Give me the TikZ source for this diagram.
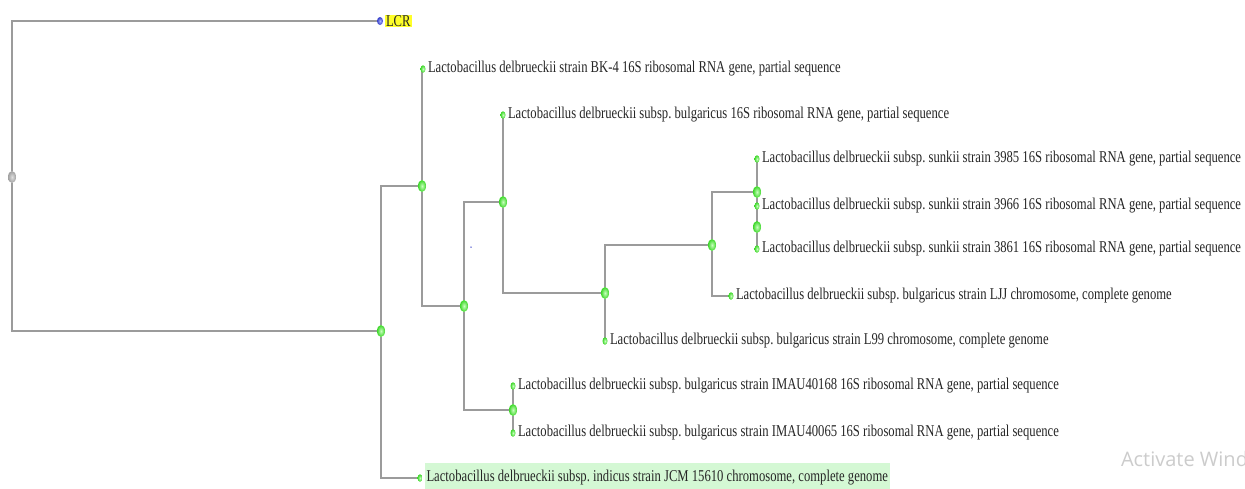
\documentclass[tikz,border=0pt]{standalone}
\usepackage{fontspec}
\setmainfont{Liberation Serif}[FakeStretch=0.767]
\newfontfamily\winfont{Open Sans}
\frenchspacing
\usepackage{tikz}
\usetikzlibrary{backgrounds}
\usetikzlibrary{shapes.geometric}
\definecolor{treeline}{RGB}{155,155,155}
\definecolor{greenlite}{RGB}{200,255,190}
\definecolor{greenrim}{RGB}{60,215,40}
\definecolor{bluelite}{RGB}{170,180,255}
\definecolor{bluerim}{RGB}{50,60,200}
\definecolor{hiyellow}{RGB}{255,255,40}
\definecolor{higreen}{RGB}{212,248,212}

\begin{document}
\begin{tikzpicture}[x=1pt,y=-1pt,
  every node/.style={ellipse,inner sep=0pt,outer sep=0pt},
  greenball/.style={shading=radial,inner color=greenlite,outer color=greenrim},
  leafdot/.style={greenball,minimum width=5pt,minimum height=7.5pt},
  forkdot/.style={greenball,minimum width=8pt,minimum height=12pt},
  lbl/.style={rectangle,inner sep=0.5pt,font=\fontsize{16.5}{18}\selectfont,text=black!85},
  every label/.style={lbl},label distance=2pt]
\useasboundingbox (0,0) rectangle (1245,488);

\node [shading=radial,inner color=gray!25,outer color=gray!75,minimum width=8pt,minimum height=12pt] (root) at (12,177){};
\node [shading=radial,inner color=bluelite,outer color=bluerim,minimum width=6pt,minimum height=8pt] (lcr) at (380,21)
  [label={[fill=hiyellow,inner xsep=1pt,inner ysep=0pt]right:LCR}]{};

\node[forkdot] (nA) at (381,331){};
\node[leafdot] (indicus) at (420,478)
  [label={[fill=higreen,inner xsep=2pt,inner ysep=8pt]right:{Lactobacillus delbrueckii subsp. indicus strain JCM 15610 chromosome, complete genome}}]{};
\node[forkdot] (nB) at (422,186){};
\node[leafdot] (bk4) at (423,69)[label={right:{Lactobacillus delbrueckii strain BK-4 16S ribosomal RNA gene, partial sequence}}]{};
\node[forkdot] (nC) at (464,306){};
\node[forkdot] (nD) at (503,202){};
\node[leafdot] (bulg) at (503,115)[label={right:{Lactobacillus delbrueckii subsp. bulgaricus 16S ribosomal RNA gene, partial sequence}}]{};
\node[forkdot] (nE) at (513,410){};
\node[leafdot] (imau168) at (513,386)[label={right:{Lactobacillus delbrueckii subsp. bulgaricus strain IMAU40168 16S ribosomal RNA gene, partial sequence}}]{};
\node[leafdot] (imau065) at (513,433)[label={right:{Lactobacillus delbrueckii subsp. bulgaricus strain IMAU40065 16S ribosomal RNA gene, partial sequence}}]{};
\node[forkdot] (nF) at (605,293){};
\node[leafdot] (l99) at (605,341)[label={right:{Lactobacillus delbrueckii subsp. bulgaricus strain L99 chromosome, complete genome}}]{};
\node[forkdot] (nG) at (712,245){};
\node[leafdot] (ljj) at (731,296)[label={right:{Lactobacillus delbrueckii subsp. bulgaricus strain LJJ chromosome, complete genome}}]{};
\node[forkdot] (nH) at (757,192){};
\node[leafdot] (s3985) at (757,159)[label={right:{Lactobacillus delbrueckii subsp. sunkii strain 3985 16S ribosomal RNA gene, partial sequence}}]{};
\node[forkdot] (nI) at (757,227){};
\node[leafdot] (s3966) at (757,206)[label={right:{Lactobacillus delbrueckii subsp. sunkii strain 3966 16S ribosomal RNA gene, partial sequence}}]{};
\node[leafdot] (s3861) at (757,249)[label={right:{Lactobacillus delbrueckii subsp. sunkii strain 3861 16S ribosomal RNA gene, partial sequence}}]{};

\node[circle,fill=bluerim,minimum size=1.5pt] (speck) at (471,247){};

\begin{scope}
\clip (0,0) rectangle (1245,488);
\node[rectangle,anchor=base west,inner sep=0pt,text=gray!40,font=\winfont\fontsize{20}{24}\selectfont] (watermark) at (1121,466) {Activate Windows};
\end{scope}

\begin{scope}[on background layer]
\fill[white](0,0) rectangle (1245,488);
\draw[treeline,line width=1.2pt](root)|-(lcr);
\draw[treeline,line width=1.2pt](root)|-(nA);
\draw[treeline,line width=1.2pt](nA)|-(nB);
\draw[treeline,line width=1.2pt](nA)|-(indicus);
\draw[treeline,line width=1.2pt](nB)|-(bk4);
\draw[treeline,line width=1.2pt](nB)|-(nC);
\draw[treeline,line width=1.2pt](nC)|-(nD);
\draw[treeline,line width=1.2pt](nC)|-(nE);
\draw[treeline,line width=1.2pt](nD)|-(bulg);
\draw[treeline,line width=1.2pt](nD)|-(nF);
\draw[treeline,line width=1.2pt](nE)|-(imau168);
\draw[treeline,line width=1.2pt](nE)|-(imau065);
\draw[treeline,line width=1.2pt](nF)|-(nG);
\draw[treeline,line width=1.2pt](nF)|-(l99);
\draw[treeline,line width=1.2pt](nG)|-(nH);
\draw[treeline,line width=1.2pt](nG)|-(ljj);
\draw[treeline,line width=1.2pt](nH)|-(s3985);
\draw[treeline,line width=1.2pt](nH)|-(nI);
\draw[treeline,line width=1.2pt](nI)|-(s3966);
\draw[treeline,line width=1.2pt](nI)|-(s3861);
\end{scope}
\end{tikzpicture}
\end{document}
